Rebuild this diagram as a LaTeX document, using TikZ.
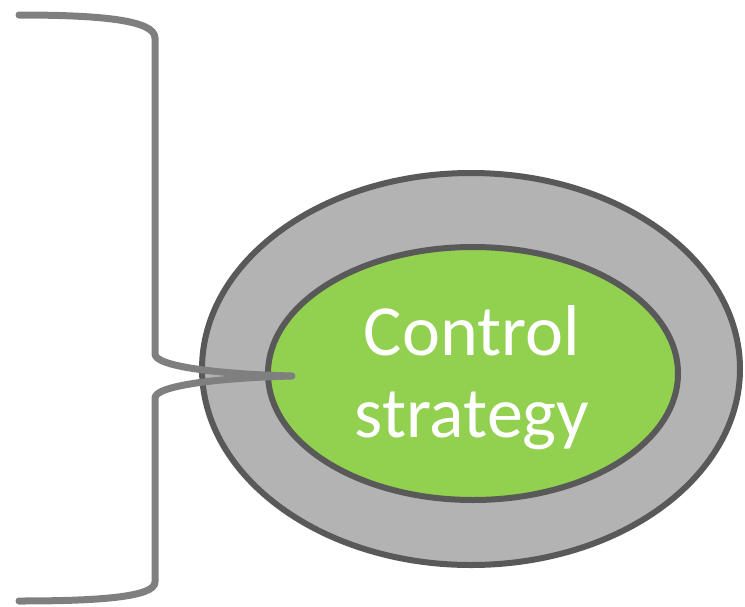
\documentclass[tikz,border=0pt]{standalone}
\usepackage{fontspec}
\setmainfont{Carlito}
\usetikzlibrary{shapes.geometric}
\definecolor{ringgray}{HTML}{B3B3B3}
\definecolor{edgegray}{HTML}{595959}
\definecolor{leafgreen}{HTML}{92D050}
\definecolor{bracegray}{HTML}{7F7F7F}
\tikzset{
  oval/.style={ellipse, draw=edgegray, line width=6pt, inner sep=0pt},
  label text/.style={text=white, font=\fontsize{72}{82}\selectfont, inner sep=0pt, anchor=base},
  brace line/.style={draw=bracegray, line width=7pt, line cap=round, line join=round}
}
\begin{document}
\begin{tikzpicture}[x=1pt,y=-1pt]
  \useasboundingbox (0,0) rectangle (745,606);
  % rings
  \node[oval, fill=ringgray, minimum width=538pt, minimum height=392pt] (outer) at (471,369) {};
  \node[oval, fill=leafgreen, minimum width=410pt, minimum height=253pt] (inner) at (473,373.5) {};
  % caption
  \node[label text] (ctrl) at (472,355) {Control};
  \node[label text] (strat) at (472,437) {strategy};
  % brace points
  \coordinate (btop) at (19,15);
  \coordinate (bup) at (155,38);
  \coordinate (bmidup) at (155,354);
  \coordinate (tip) at (292,376);
  \coordinate (bmiddn) at (155,398);
  \coordinate (bdn) at (155,582);
  \coordinate (bbot) at (19,601);
  \draw[brace line]
    (btop) .. controls (100,15) and (155,20) .. (bup)
    -- (bmidup) .. controls (155,366) and (215,374) .. (tip)
    .. controls (215,378) and (155,386) .. (bmiddn)
    -- (bdn) .. controls (155,597) and (100,601) .. (bbot);
\end{tikzpicture}
\end{document}
